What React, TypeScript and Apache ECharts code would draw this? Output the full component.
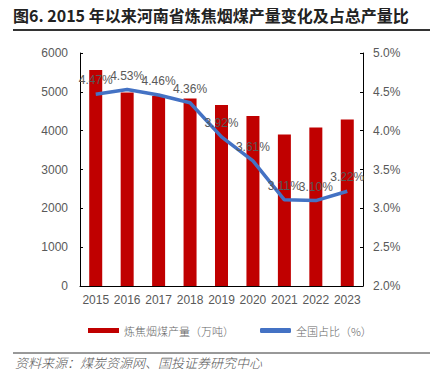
import React, { useEffect, useRef } from "react";
import * as echarts from "echarts";

const years = ["2015", "2016", "2017", "2018", "2019", "2020", "2021", "2022", "2023"];
const output = [5560, 4980, 4890, 4830, 4660, 4380, 3900, 4080, 4290];
const share = [4.47, 4.53, 4.46, 4.36, 3.92, 3.61, 3.11, 3.1, 3.22];
const barName = "炼焦烟煤产量（万吨）";
const lineName = "全国占比（%）";
const title = "图6. 2015 年以来河南省炼焦烟煤产量变化及占总产量比";
const source = "资料来源：煤炭资源网、国投证券研究中心";

const LATIN = "'Liberation Sans', Arial, 'Noto Sans CJK SC', sans-serif";
const CJK = "'Noto Sans CJK SC', 'Liberation Sans', sans-serif";

export default function App() {
  const ref = useRef<HTMLDivElement>(null);
  useEffect(() => {
    if (!ref.current) return;
    const chart = echarts.init(ref.current, undefined, { renderer: "svg" });
    chart.setOption({
      animation: false,
      backgroundColor: "#ffffff",
      grid: { left: 80, right: 71, top: 53, bottom: 90, containLabel: false },
      legend: {
        left: 83,
        top: 320,
        itemWidth: 31,
        itemHeight: 5,
        itemGap: 26,
        textStyle: { color: "#666666", fontSize: 11, fontFamily: CJK, fontWeight: 300 },
        data: [
          { name: barName, icon: "rect" },
          { name: lineName, icon: "roundRect" },
        ],
      },
      xAxis: {
        type: "category",
        data: years,
        axisLine: { show: true, lineStyle: { color: "#000", width: 1 } },
        axisTick: { show: false },
        axisLabel: { color: "#595959", fontSize: 12, fontFamily: LATIN, margin: 8, interval: 0 },
      },
      yAxis: [
        {
          type: "value",
          min: 0,
          max: 6000,
          interval: 1000,
          splitLine: { show: false },
          axisLine: { show: true, lineStyle: { color: "#000", width: 1 } },
          axisTick: { show: true, inside: true, length: 3, lineStyle: { color: "#000" } },
          axisLabel: {
            color: "#595959",
            fontSize: 12,
            fontFamily: LATIN,
            margin: 12,
            formatter: (v: number) => String(v),
          },
        },
        {
          type: "value",
          min: 2,
          max: 5,
          interval: 0.5,
          splitLine: { show: false },
          axisLine: { show: true, lineStyle: { color: "#000", width: 1 } },
          axisTick: { show: true, inside: true, length: 3, lineStyle: { color: "#000" } },
          axisLabel: {
            color: "#595959",
            fontSize: 12,
            fontFamily: LATIN,
            margin: 10,
            formatter: (v: number) => v.toFixed(1) + "%",
          },
        },
      ],
      series: [
        {
          name: barName,
          type: "bar",
          data: output,
          barWidth: 13,
          itemStyle: { color: "#C00000" },
        },
        {
          name: lineName,
          type: "line",
          yAxisIndex: 1,
          data: share,
          symbol: "none",
          lineStyle: { color: "#4472C4", width: 3.5 },
          itemStyle: { color: "#4472C4" },
          z: 3,
        },
        {
          name: "labels",
          type: "line",
          yAxisIndex: 1,
          data: share,
          showSymbol: true,
          symbol: "circle",
          symbolSize: 0,
          lineStyle: { opacity: 0 },
          itemStyle: { color: "#4472C4" },
          z: 10,
          labelLayout: { hideOverlap: false },
          label: {
            show: true,
            position: "top",
            distance: 8,
            color: "#595959",
            fontSize: 12,
            fontFamily: LATIN,
            formatter: (p: any) => Number(p.value).toFixed(2) + "%",
          },
        },
      ],
      graphic: [
        {
          type: "text",
          left: 13,
          top: 7,
          style: {
            text: title,
            fill: "#222",
            fontSize: 16,
            fontWeight: "bold",
            fontFamily: CJK,
          },
        },
        {
          type: "line",
          shape: { x1: 13, y1: 30, x2: 430, y2: 30 },
          style: { stroke: "#333", lineWidth: 2 },
        },
        {
          type: "line",
          shape: { x1: 13, y1: 353, x2: 430, y2: 353 },
          style: { stroke: "#333", lineWidth: 1 },
        },
        {
          type: "text",
          left: 15,
          top: 356,
          style: {
            text: source,
            fill: "#595959",
            fontSize: 13,
            fontStyle: "italic",
            fontWeight: 300,
            fontFamily: CJK,
          },
        },
      ],
    });
    return () => chart.dispose();
  }, []);
  return <div ref={ref} style={{ width: 434, height: 376, position: "absolute", left: 0, top: 0 }} />;
}
